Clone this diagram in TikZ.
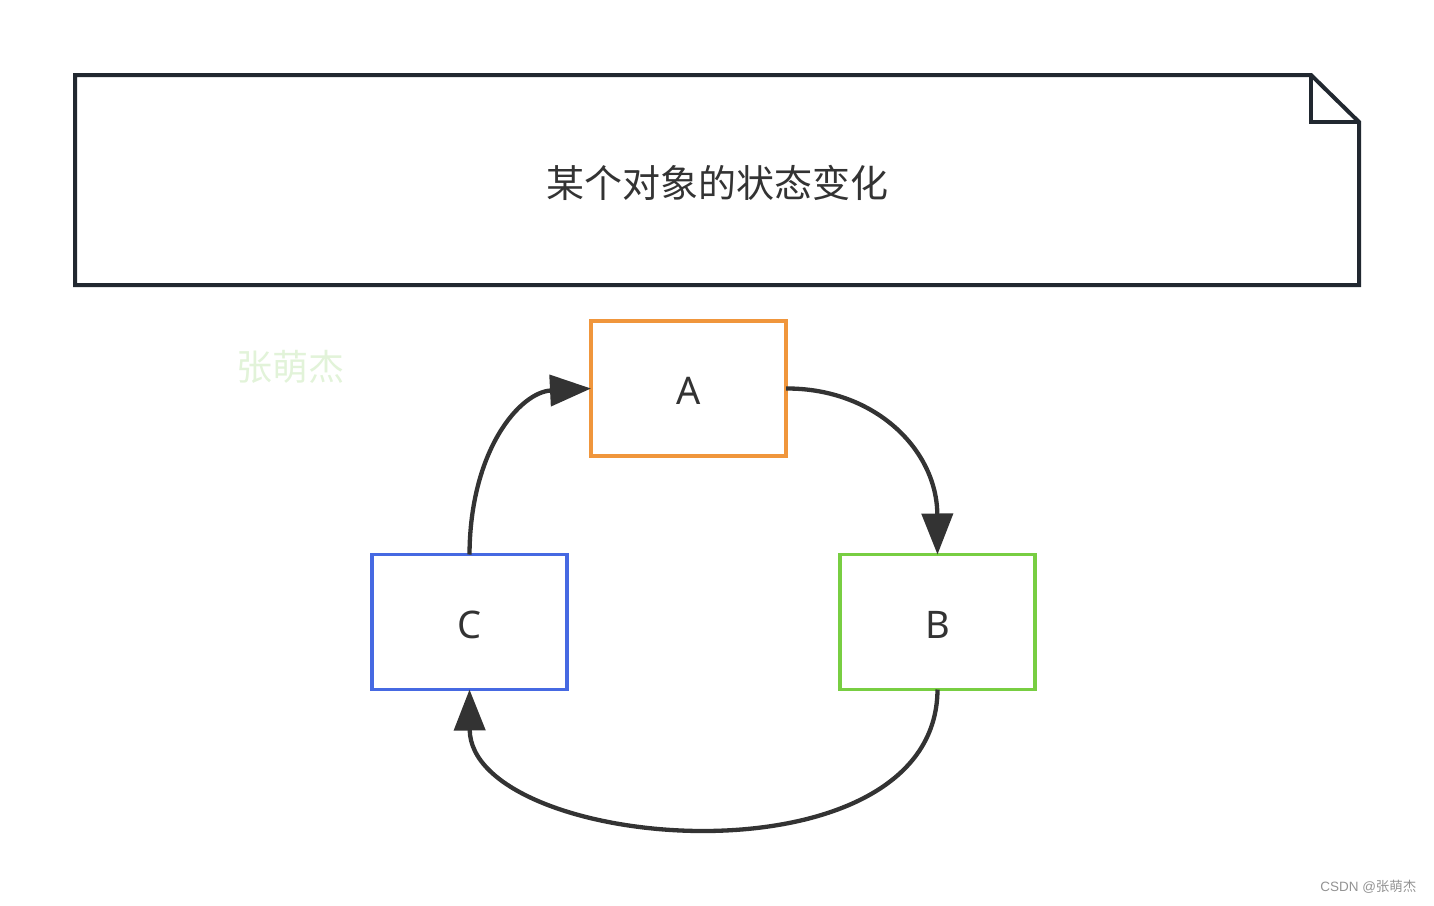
\documentclass[tikz,border=0pt]{standalone}
\usepackage{fontspec}
\setmainfont{Noto Sans}
\newfontfamily\cjk{Noto Sans CJK SC}
\newfontfamily\arialf{Liberation Sans}
\usetikzlibrary{arrows.meta}
\definecolor{notec}{HTML}{212830}
\definecolor{txt}{HTML}{333333}
\definecolor{ora}{HTML}{F0963C}
\definecolor{grn}{HTML}{78CE42}
\definecolor{blu}{HTML}{4669E2}
\definecolor{wm}{HTML}{E2F3D9}
\tikzset{
  statebox/.style={draw, line width=3.2pt, outer sep=0pt, minimum width=195pt, minimum height=135pt, inner sep=0pt, text=txt, font=\fontsize{38}{40}\selectfont},
  flow/.style={draw=txt, line width=4.3pt, -{Triangle[length=41pt,width=31pt]}},
}
\begin{document}
\begin{tikzpicture}[x=1pt,y=-1pt]
\useasboundingbox (0,0) rectangle (1434,905);
\draw[notec, line width=4pt, line join=miter] (75,75) -- (1311,75) -- (1359,122) -- (1359,285) -- (75,285) -- cycle;
\draw[notec, line width=4pt] (1311,75) -- (1311,122) -- (1359,122);
\node[text=txt, font=\cjk\fontsize{38}{40}\selectfont] (title) at (717,183) {某个对象的状态变化};
\node[text=wm, font=\cjk\fontsize{36}{40}\selectfont] (wmark) at (290,367) {张萌杰};
\node[text=gray!85, font=\fontsize{13.5}{15}\selectfont, anchor=east] (csdn) at (1420,887) {{\arialf CSDN @}{\cjk 张萌杰}};
\node[statebox, draw=ora] (A) at (688.5,388.5) {};
\node[statebox, draw=grn] (B) at (937.5,622) {};
\node[statebox, draw=blu] (C) at (469.5,622) {};
\node[text=txt, font=\fontsize{38}{40}\selectfont] (la) at (688.5,391) {A};
\node[text=txt, font=\fontsize{38}{40}\selectfont] (lb) at (937.5,625) {B};
\node[text=txt, font=\fontsize{38}{40}\selectfont] (lc) at (469.5,625) {C};
\draw[flow] (A.east) .. controls (875,388) and (937,450) .. (B.north);
\draw[flow] (B.south) .. controls (937,790) and (820,831) .. (703,831) .. controls (586,831) and (470,790) .. (C.south);
\draw[flow] (C.north) .. controls (470,450) and (520,392) .. (A.west);
\end{tikzpicture}
\end{document}
